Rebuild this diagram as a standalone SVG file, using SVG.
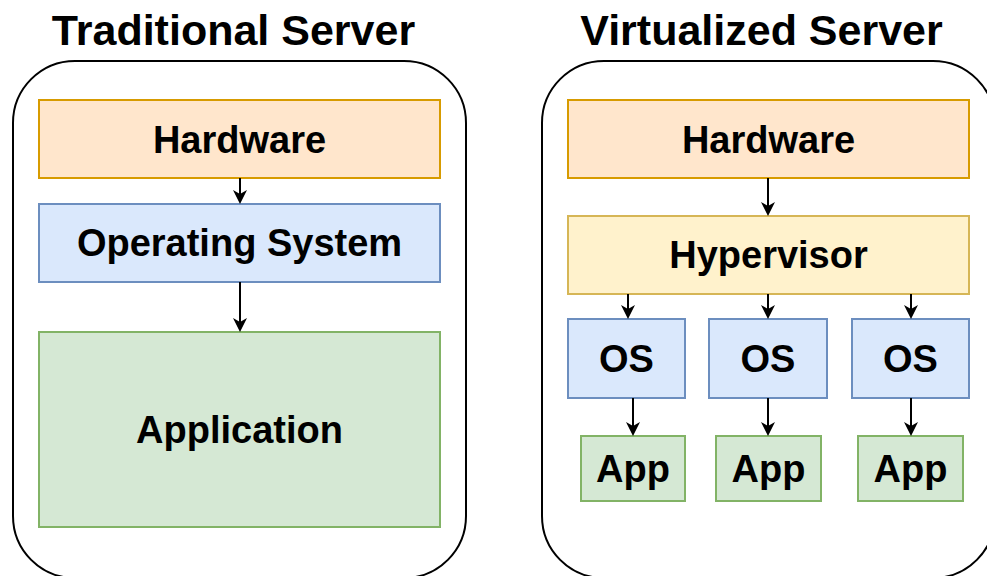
<svg xmlns="http://www.w3.org/2000/svg" width="987" height="576" viewBox="0 0 987 576">
  <defs>
    <marker id="arrow" viewBox="0 0 14 14" markerWidth="14" markerHeight="14" markerUnits="userSpaceOnUse" refX="4" refY="7" orient="auto">
      <path d="M0,0 L14,7 L0,14 L4,7 Z" fill="#000"/>
    </marker>
    <style>
      text { font-family: "Liberation Sans", Arial, Helvetica, sans-serif; font-weight: bold; fill: #000; text-anchor: middle; }
      .title { font-size: 43px; }
      .lbl { font-size: 38px; }
      .frame { fill: #fff; stroke: #000; stroke-width: 2; }
      .hw { fill: #ffe6cc; stroke: #d79b00; stroke-width: 2; }
      .os { fill: #dae8fc; stroke: #6c8ebf; stroke-width: 2; }
      .app { fill: #d5e8d4; stroke: #82b366; stroke-width: 2; }
      .hv { fill: #fff2cc; stroke: #d6b656; stroke-width: 2; }
      .edge { fill: none; stroke: #000; stroke-width: 2; marker-end: url(#arrow); }
    </style>
  </defs>
  <rect width="987" height="576" fill="#fff"/>

  <!-- Traditional server -->
  <g id="traditional">
    <text class="title" x="233.5" y="45">Traditional Server</text>
    <rect class="frame" x="13" y="61" width="453" height="517" rx="62" ry="62"/>
  </g>
  <g id="t-hardware">
    <rect class="hw" x="39" y="100" width="401" height="78"/>
    <text class="lbl" x="239.5" y="153">Hardware</text>
  </g>
  <g id="t-os">
    <rect class="os" x="39" y="204" width="401" height="78"/>
    <text class="lbl" x="239.5" y="256">Operating System</text>
  </g>
  <g id="t-app">
    <rect class="app" x="39" y="332" width="401" height="195"/>
    <text class="lbl" x="239.5" y="443">Application</text>
  </g>

  <!-- Virtualized server -->
  <g id="virtualized">
    <text class="title" x="761.5" y="45">Virtualized Server</text>
    <rect class="frame" x="542" y="61" width="453" height="517" rx="62" ry="62"/>
  </g>
  <g id="v-hardware">
    <rect class="hw" x="568" y="100" width="401" height="78"/>
    <text class="lbl" x="768.5" y="153">Hardware</text>
  </g>
  <g id="v-hypervisor">
    <rect class="hv" x="568" y="216" width="401" height="78"/>
    <text class="lbl" x="768.5" y="268">Hypervisor</text>
  </g>
  <g id="v-os1">
    <rect class="os" x="568" y="319" width="117" height="79"/>
    <text class="lbl" x="626.5" y="372">OS</text>
  </g>
  <g id="v-os2">
    <rect class="os" x="709" y="319" width="118" height="79"/>
    <text class="lbl" x="768" y="372">OS</text>
  </g>
  <g id="v-os3">
    <rect class="os" x="852" y="319" width="117" height="79"/>
    <text class="lbl" x="910.5" y="372">OS</text>
  </g>
  <g id="v-app1">
    <rect class="app" x="581" y="436" width="104" height="65"/>
    <text class="lbl" x="633" y="482">App</text>
  </g>
  <g id="v-app2">
    <rect class="app" x="716" y="436" width="105" height="65"/>
    <text class="lbl" x="768.5" y="482">App</text>
  </g>
  <g id="v-app3">
    <rect class="app" x="858" y="436" width="105" height="65"/>
    <text class="lbl" x="910.5" y="482">App</text>
  </g>

  <!-- connectors -->
  <g id="connectors">
    <line class="edge" x1="240" y1="178" x2="240" y2="194"/>
    <line class="edge" x1="240" y1="282" x2="240" y2="322"/>
    <line class="edge" x1="768" y1="178" x2="768" y2="206"/>
    <line class="edge" x1="628" y1="294" x2="628" y2="309"/>
    <line class="edge" x1="768" y1="294" x2="768" y2="309"/>
    <line class="edge" x1="911" y1="294" x2="911" y2="309"/>
    <line class="edge" x1="633" y1="398" x2="633" y2="426"/>
    <line class="edge" x1="768" y1="398" x2="768" y2="426"/>
    <line class="edge" x1="911" y1="398" x2="911" y2="426"/>
  </g>
</svg>
